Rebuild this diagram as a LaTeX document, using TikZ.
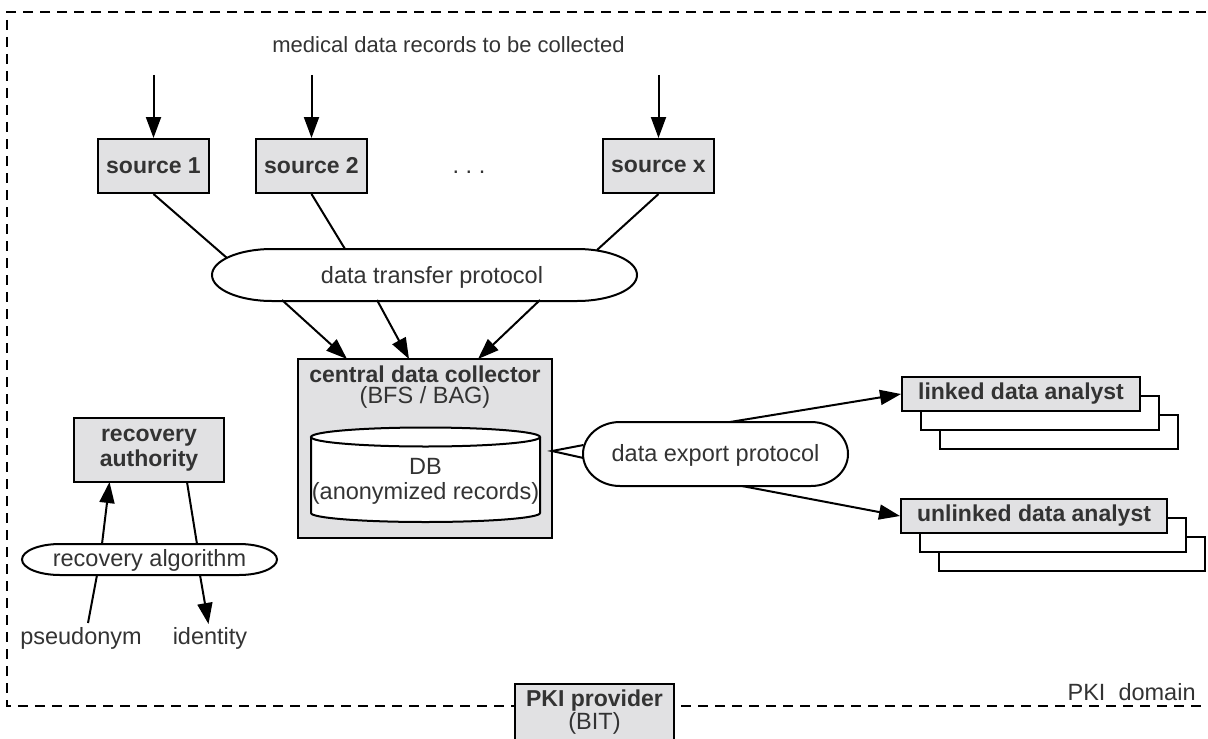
\documentclass[tikz,border=0pt]{standalone}
\usepackage{fontspec}
\setmainfont{Liberation Sans}
\usetikzlibrary{arrows.meta}
\definecolor{boxgray}{HTML}{E1E1E3}
\definecolor{txt}{HTML}{333333}
\newcommand{\capsuleat}[5]{%
  \draw[line width=1pt, fill=white] (#1-#3+#5, #2-#4) -- (#1+#3-#5, #2-#4)
    arc[start angle=-90, end angle=90, x radius=#5, y radius=#4]
    -- (#1-#3+#5, #2+#4)
    arc[start angle=90, end angle=270, x radius=#5, y radius=#4] -- cycle;}
\begin{document}
\begin{tikzpicture}[x=0.5pt,y=-0.5pt,
  every node/.style={text=txt, font=\fontsize{11.75pt}{12.5pt}\selectfont, inner sep=0pt, align=center},
  bl/.style={font=\fontsize{11.5pt}{12.5pt}\selectfont\bfseries},
  gbox/.style={draw=black, fill=boxgray, line width=1pt},
  wbox/.style={draw=black, fill=white, line width=1pt},
  conn/.style={line width=1pt, draw=black},
  arr/.style={conn, -{Triangle[length=10.5pt,width=7.5pt]}},
  border/.style={line width=1pt, dash pattern=on 5pt off 3.5pt},
]
\clip (0,0) rectangle (1208,738);

% PKI domain border
\draw[border] (1240,12) -- (7,12) -- (7,706) -- (1240,706);
\node[anchor=east] (pkid) at (1196,692) {PKI~~domain};

% title
\node[anchor=west, font=\fontsize{11pt}{12pt}\selectfont] (title) at (272,45) {medical data records to be collected};

% sources
\node[gbox, bl, minimum width=55.5pt, minimum height=27pt] (s1) at (153.5,166) {source 1};
\node[gbox, bl, minimum width=55.5pt, minimum height=27pt] (s2) at (311.5,166) {source 2};
\node[gbox, bl, minimum width=55.5pt, minimum height=27pt] (sx) at (658.5,166) {source x};
\node (dots) at (469,172) {.\ .\ .};

\coordinate (i1) at (153.5,75);
\coordinate (i2) at (311.5,75);
\coordinate (ix) at (658.5,75);
\draw[arr] (i1) -- (s1.north);
\draw[arr] (i2) -- (s2.north);
\draw[arr] (ix) -- (sx.north);

% data transfer protocol
\coordinate (tpa) at (227,258);
\coordinate (tpb) at (345,249);
\coordinate (tpc) at (597,250);
\draw[conn] (s1.south) -- (tpa);
\draw[conn] (s2.south) -- (tpb);
\draw[conn] (sx.south) -- (tpc);
\capsuleat{424.5}{275}{212.5}{26}{60}
\node (tp) at (432,277) {data transfer protocol};

% central data collector
\node[gbox, minimum width=127pt, minimum height=89.5pt] (col) at (425,448.5) {};
\node[font=\fontsize{11.5pt}{10.5pt}\selectfont] (colt) at (425,387) {\textbf{central data collector}\\\fontsize{11.75pt}{10.5pt}\selectfont(BFS / BAG)};

\coordinate (ta) at (282,300);
\coordinate (tb) at (377,300);
\coordinate (tc) at (540,300);
\coordinate (ca) at (347,359);
\coordinate (cb) at (409,359);
\coordinate (cc) at (478,359);
\draw[arr] (ta) -- (ca);
\draw[arr] (tb) -- (cb);
\draw[arr] (tc) -- (cc);

% DB cylinder
\fill[white] (311,437) -- (311,513) arc[start angle=180, end angle=0, x radius=114.5, y radius=9] -- (540,437) -- cycle;
\draw[line width=1pt] (311,437) -- (311,513) arc[start angle=180, end angle=0, x radius=114.5, y radius=9] -- (540,437);
\draw[line width=1pt, fill=white] (425.5,437) ellipse [x radius=114.5, y radius=9.5];
\node (db) at (425.5,481) {DB\\(anonymized records)};

% data export protocol
\capsuleat{715.5}{454}{132.5}{32}{37}
\node (ep) at (715.5,455) {data export protocol};
\coordinate (wa) at (552,451);
\coordinate (wb) at (583.5,445);
\coordinate (wc) at (583.5,458);
\draw[conn] (wb) -- (wa) -- (wc);

% analysts
\node[wbox, minimum width=119pt, minimum height=17pt] (lk3) at (1059,432) {};
\node[wbox, minimum width=119pt, minimum height=17pt] (lk2) at (1040,413) {};
\node[gbox, bl, minimum width=119pt, minimum height=17pt] (lk) at (1021,394) {linked data analyst};
\node[wbox, minimum width=133pt, minimum height=17pt] (ul3) at (1072,554) {};
\node[wbox, minimum width=133pt, minimum height=17pt] (ul2) at (1053,535) {};
\node[gbox, bl, minimum width=133pt, minimum height=17pt] (ul) at (1034,516) {unlinked data analyst};
\coordinate (ea) at (730,422);
\coordinate (eb) at (742,486);
\draw[arr] (ea) -- (lk.west);
\draw[arr] (eb) -- (ul.west);

% recovery
\node[gbox, bl, minimum width=75pt, minimum height=32pt] (ra) at (149,450) {recovery\\authority};
\capsuleat{149.5}{559.5}{127.5}{15.5}{38}
\node (ralg) at (149.5,560) {recovery algorithm};
\coordinate (r1) at (102,544);
\coordinate (r2) at (197,544);
\coordinate (r3) at (97,575);
\coordinate (r4) at (200,575);
\coordinate (r5) at (187,482);
\coordinate (r6) at (109.5,482);
\coordinate (r7) at (88,623);
\coordinate (r8) at (208.5,624);
\node (pseu) at (81,638) {pseudonym};
\node (iden) at (210,638) {identity};
\draw[arr] (r1) -- (r6);
\draw[conn] (r5) -- (r2);
\draw[conn] (r3) -- (r7);
\draw[arr] (r4) -- (r8);

% PKI provider
\node[gbox, minimum width=79.5pt, minimum height=38pt] (pki) at (594.5,722) {};
\node[bl] (pkit) at (594.5,701) {PKI provider};
\node (pkis) at (594.5,723) {(BIT)};
\end{tikzpicture}
\end{document}
